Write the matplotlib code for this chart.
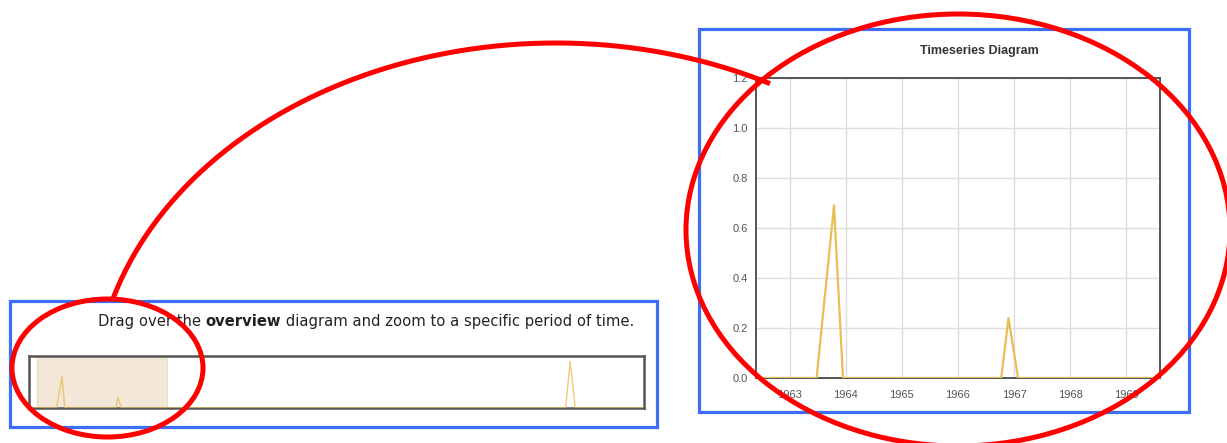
import numpy as np
import matplotlib
matplotlib.use("Agg")
import matplotlib.pyplot as plt
from matplotlib.patches import Rectangle, Ellipse

# ---------------- data ----------------
years = [1962.0, 1963.48, 1963.79, 1963.95, 1966.77, 1966.90, 1967.07,
         1991.75, 1992.0, 1992.28, 1996.1]
values = [0, 0, 0.69, 0, 0, 0.24, 0, 0, 1.03, 0, 0]
year_ticks = [1963, 1964, 1965, 1966, 1967, 1968, 1969]
value_ticks = [0.0, 0.2, 0.4, 0.6, 0.8, 1.0, 1.2]
zoom_range = [1962.4, 1969.6]
overview_range = [1961.96, 1996.1]

W, H = 1227, 443
fig = plt.figure(figsize=(W / 100, H / 100), dpi=100)
fig.patch.set_facecolor("white")
FONT = "Liberation Sans"
LINE = "#e8bf55"
SPINE = "#555555"


def fx(px):
    return px / W


def fy(py):
    return 1 - py / H


# ---------------- main (zoomed) chart ----------------
ax = fig.add_axes([fx(756), fy(378), fx(1160) - fx(756), fy(78) - fy(378)])
ax.plot(years, values, color=LINE, lw=1.6, zorder=3, clip_on=True)
ax.set_xlim(*zoom_range)
ax.set_ylim(0, 1.2)
ax.set_xticks(year_ticks)
ax.set_xticklabels([str(y) for y in year_ticks])
ax.set_yticks(value_ticks)
ax.set_yticklabels([f"{v:.1f}" for v in value_ticks])
ax.grid(True, color="#dddddd", lw=1.0)
ax.set_axisbelow(True)
ax.tick_params(axis="x", length=0, labelsize=8, labelcolor="#555555", pad=9)
ax.tick_params(axis="y", length=0, labelsize=8, labelcolor="#555555", pad=6)
for lab in ax.get_xticklabels() + ax.get_yticklabels():
    lab.set_fontfamily(FONT)
for s in ax.spines.values():
    s.set_color(SPINE)
    s.set_linewidth(1.4)

fig.text(fx(979), fy(51), "Timeseries Diagram", ha="center", va="center",
         fontsize=9, fontweight="bold", color="#333333", family=FONT)

# ---------------- overview chart ----------------
ov = fig.add_axes([fx(29), fy(408), fx(644) - fx(29), fy(356) - fy(408)])
ov.axvspan(zoom_range[0], zoom_range[1], color="#f3e8d8", ec="#eadbc4", lw=0.8, zorder=1)
ov.plot(years, values, color=LINE, lw=1.0, alpha=0.8, zorder=3)
ov.set_xlim(*overview_range)
ov.set_ylim(0, 1.15)
ov.set_xticks([])
ov.set_yticks([])
for s in ov.spines.values():
    s.set_color(SPINE)
    s.set_linewidth(1.8)

TF = "DejaVu Sans"
TS = 10.6
t1 = fig.text(fx(98), fy(326), "Drag over the ", ha="left", va="baseline",
              fontsize=TS, color="#222222", family=TF)
t2 = fig.text(0, 0, "overview", fontsize=TS, fontweight="bold", color="#222222",
              family=TF, ha="left", va="baseline")
t3 = fig.text(0, 0, " diagram and zoom to a specific period of time.", fontsize=TS,
              color="#222222", family=TF, ha="left", va="baseline")
fig.canvas.draw()
r = fig.canvas.get_renderer()
bb1 = t1.get_window_extent(r)
base_y = t1.get_position()[1]
t2.set_position((bb1.x1 / W, base_y))
fig.canvas.draw()
bb2 = t2.get_window_extent(r)
t3.set_position((bb2.x1 / W, base_y))

# ---------------- overlay: frames and red annotation ----------------
ovl = fig.add_axes([0, 0, 1, 1], zorder=10)
ovl.set_xlim(0, W)
ovl.set_ylim(H, 0)
ovl.axis("off")
ovl.patch.set_alpha(0)

blue = "#3d6ef5"
ovl.add_patch(Rectangle((699, 29), 1189 - 699, 412 - 29, fill=False, ec=blue, lw=2.3))
ovl.add_patch(Rectangle((10, 301), 657 - 10, 427 - 301, fill=False, ec=blue, lw=2.3))

red = "#ff0000"
ovl.add_patch(Ellipse((958, 230), 544, 432, fill=False, ec=red, lw=3.6))
ovl.add_patch(Ellipse((107.5, 368), 191, 138, fill=False, ec=red, lw=3.6))
t = np.radians(np.linspace(62.4, 163.7, 200))
ovl.plot(556 + 462 * np.cos(t), 400 - 357 * np.sin(t), color=red, lw=3.6,
         solid_capstyle="butt")

fig.savefig("out.png", dpi=100, facecolor="white")
